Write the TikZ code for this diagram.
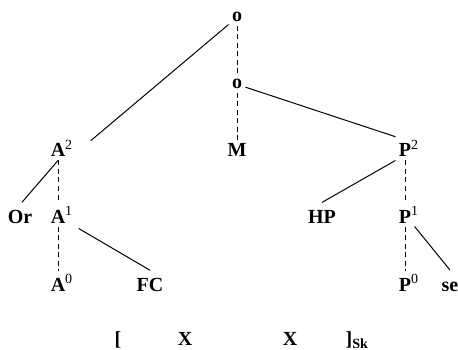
\documentclass[tikz,border=0pt]{standalone}
\usepackage{fontspec}
\setmainfont{Liberation Serif}
\usetikzlibrary{calc}

\begin{document}
\begin{tikzpicture}[x=1pt, y=-1pt, line width=1pt,
    lbl/.style={anchor=base, inner sep=3pt, font=\fontsize{20}{24}\selectfont\bfseries},
    dsh/.style={line width=0.8pt, dash pattern=on 5pt off 3.5pt}]
  \useasboundingbox (0,0) rectangle (458,350);
  % Knoten (Grundlinie)
  \node[lbl] (top) at (237,22) {o};
  \node[lbl] (mid) at (237,89) {o};
  \node[lbl] (A2) at (58,157) {A\rlap{\textsuperscript{\mdseries 2}}};
  \node[lbl] (M) at (237,157) {M};
  \node[lbl] (P2) at (405,157) {P\rlap{\textsuperscript{\mdseries 2}}};
  \node[lbl] (Or) at (20,223) {Or};
  \node[lbl] (A1) at (58,223) {A\rlap{\textsuperscript{\mdseries 1}}};
  \node[lbl] (HP) at (322,223) {HP};
  \node[lbl] (P1) at (405,223) {P\rlap{\textsuperscript{\mdseries 1}}};
  \node[lbl] (A0) at (58,291) {A\rlap{\textsuperscript{\mdseries 0}}};
  \node[lbl] (FC) at (150,291) {FC};
  \node[lbl] (P0) at (405,291) {P\rlap{\textsuperscript{\mdseries 0}}};
  \node[lbl] (se) at (450,291) {se};
  % untere Zeile
  \node[lbl] (lb) at (118,345) {[};
  \node[lbl] (X1) at (185,345) {X};
  \node[lbl] (X2) at (290,345) {X};
  \node[lbl] (rb) at (349,345) {]\rlap{\textsubscript{Sk}}};
  % Kanten
  \draw (top) -- ($(A2.north east)+(22,4)$);
  \draw[dsh] (top) -- (mid);
  \draw[dsh] (mid) -- (M);
  \draw (mid) -- (P2.north west);
  \draw (A2.south) -- ($(Or.north)+(2,-4)$);
  \draw[dsh] (A2) -- (A1);
  \draw[dsh] (A1) -- (A0);
  \draw ($(A1.south east)+(10,2)$) -- ($(FC.north)+(0,-4)$);
  \draw (P2.south west) -- ($(HP.north)+(0,-4)$);
  \draw[dsh] (P2) -- (P1);
  \draw[dsh] (P1) -- (P0);
  \draw (P1.south east) -- ($(se.north)+(0,-8)$);
\end{tikzpicture}
\end{document}
